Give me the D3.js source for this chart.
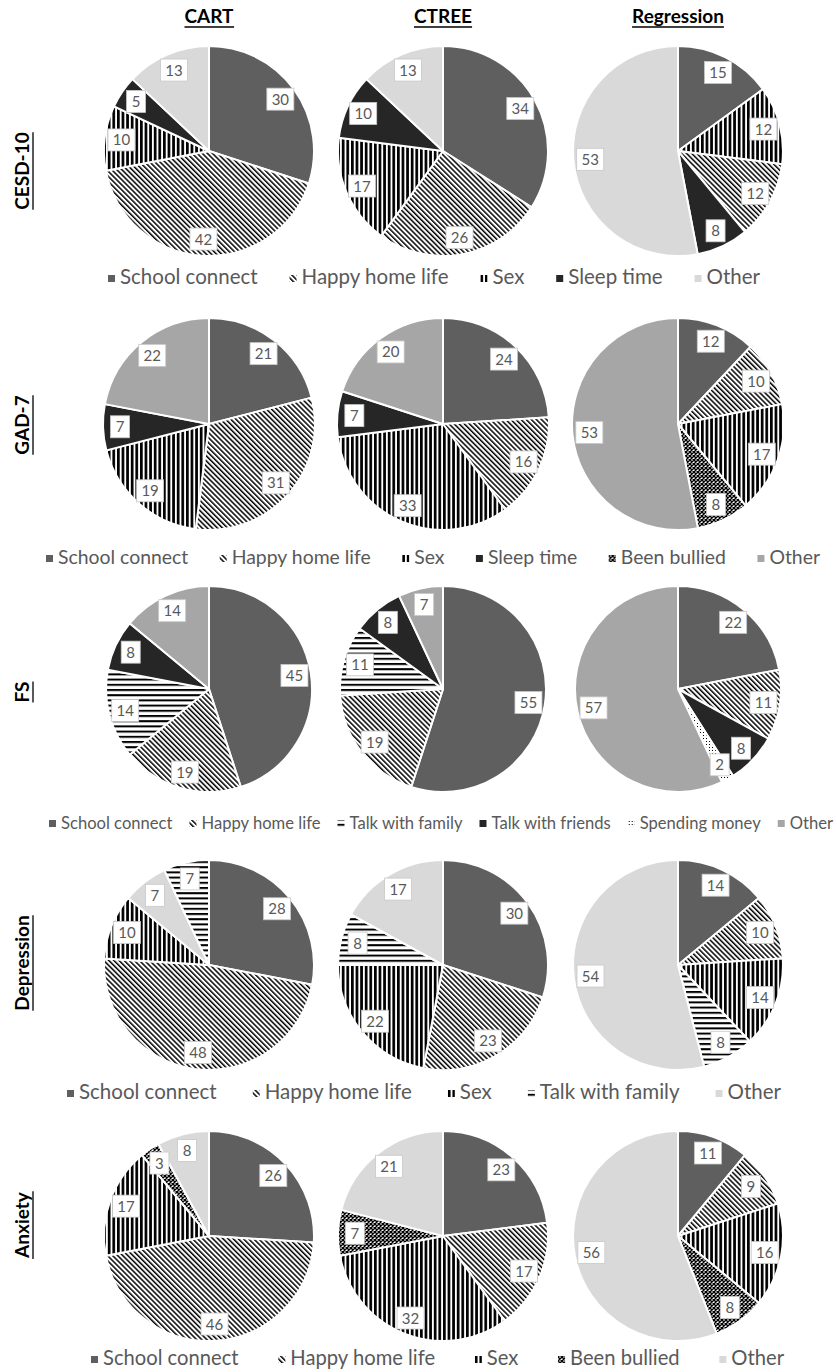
<!DOCTYPE html>
<html>
<head>
<meta charset="utf-8">
<script src="https://cdnjs.cloudflare.com/ajax/libs/d3/7.8.5/d3.min.js"></script>
<style>
  html, body { margin: 0; padding: 0; background: #fff; }
  svg { display: block; }
</style>
</head>
<body>
<svg id="chart" width="837" height="1372"></svg>
<script>
// ---------------- DATA ----------------
const columns = ["CART", "CTREE", "Regression"];
const rowNames = ["CESD-10", "GAD-7", "FS", "Depression", "Anxiety"];

const legendCESD = ["School connect", "Happy home life", "Sex", "Sleep time", "Other"];
const legendGAD = ["School connect", "Happy home life", "Sex", "Sleep time", "Been bullied", "Other"];
const legendFS = ["School connect", "Happy home life", "Talk with family", "Talk with friends", "Spending money", "Other"];
const legendDep = ["School connect", "Happy home life", "Sex", "Talk with family", "Other"];
const legendAnx = ["School connect", "Happy home life", "Sex", "Been bullied", "Other"];

// slices in clockwise order from 12 o'clock: [category, percent]
const cesdCart = [["School connect", 30], ["Happy home life", 42], ["Sex", 10], ["Sleep time", 5], ["Other", 13]];
const cesdCtree = [["School connect", 34], ["Happy home life", 26], ["Sex", 17], ["Sleep time", 10], ["Other", 13]];
const cesdReg = [["School connect", 15], ["Sex", 12], ["Happy home life", 12], ["Sleep time", 8], ["Other", 53]];

const gadCart = [["School connect", 21], ["Happy home life", 31], ["Sex", 19], ["Sleep time", 7], ["Other", 22]];
const gadCtree = [["School connect", 24], ["Happy home life", 16], ["Sex", 33], ["Sleep time", 7], ["Other", 20]];
const gadReg = [["School connect", 12], ["Happy home life", 10], ["Sex", 17], ["Been bullied", 8], ["Other", 53]];

const fsCart = [["School connect", 45], ["Happy home life", 19], ["Talk with family", 14], ["Talk with friends", 8], ["Other", 14]];
const fsCtree = [["School connect", 55], ["Happy home life", 19], ["Talk with family", 11], ["Talk with friends", 8], ["Other", 7]];
const fsReg = [["School connect", 22], ["Happy home life", 11], ["Talk with friends", 8], ["Spending money", 2], ["Other", 57]];

const depCart = [["School connect", 28], ["Happy home life", 48], ["Sex", 10], ["Other", 7], ["Talk with family", 7]];
const depCtree = [["School connect", 30], ["Happy home life", 23], ["Sex", 22], ["Talk with family", 8], ["Other", 17]];
const depReg = [["School connect", 14], ["Happy home life", 10], ["Sex", 14], ["Talk with family", 8], ["Other", 54]];

const anxCart = [["School connect", 26], ["Happy home life", 46], ["Sex", 17], ["Been bullied", 3], ["Other", 8]];
const anxCtree = [["School connect", 23], ["Happy home life", 17], ["Sex", 32], ["Been bullied", 7], ["Other", 21]];
const anxReg = [["School connect", 11], ["Happy home life", 9], ["Sex", 16], ["Been bullied", 8], ["Other", 56]];

// ---------------- LAYOUT ----------------
const rows = [
  { name: rowNames[0], pies: [cesdCart, cesdCtree, cesdReg], legend: legendCESD, cy: 151, r: 105, other: "#d9d9d9", legY: 277, legFont: 20.5, legX: [108, 760], labelY: 171 },
  { name: rowNames[1], pies: [gadCart, gadCtree, gadReg], legend: legendGAD, cy: 424, r: 106, other: "#a6a6a6", legY: 557, legFont: 19.4, legX: [46, 820], labelY: 425 },
  { name: rowNames[2], pies: [fsCart, fsCtree, fsReg], legend: legendFS, cy: 689, r: 103, other: "#a6a6a6", legY: 822, legFont: 16.6, legX: [49, 833], labelY: 692 },
  { name: rowNames[3], pies: [depCart, depCtree, depReg], legend: legendDep, cy: 965, r: 105, other: "#d9d9d9", legY: 1092, legFont: 20.5, legX: [67, 781], labelY: 963 },
  { name: rowNames[4], pies: [anxCart, anxCtree, anxReg], legend: legendAnx, cy: 1236, r: 105, other: "#d9d9d9", legY: 1358, legFont: 20.2, legX: [91, 784], labelY: 1225 }
];
const colX = [209, 443, 678];
const FONT = "Lato, 'Open Sans', sans-serif";
const TEXT_COL = "#595959";

const svg = d3.select("#chart");
const defs = svg.append("defs");

// ---------- patterns ----------
function pat(id, w, h, transform, build) {
  const p = defs.append("pattern").attr("id", id)
    .attr("patternUnits", "userSpaceOnUse").attr("width", w).attr("height", h);
  if (transform) p.attr("patternTransform", transform);
  p.append("rect").attr("width", w).attr("height", h).attr("fill", "#fff");
  build(p);
}
pat("pHappy", 3.6, 3.6, "rotate(-45)", p => p.append("rect").attr("x", 0).attr("y", 0).attr("width", 1.5).attr("height", 3.6).attr("fill", "#000"));
pat("pSex", 4.6, 4.6, null, p => p.append("rect").attr("x", 0).attr("y", 0).attr("width", 2.7).attr("height", 4.6).attr("fill", "#000"));
pat("pFamily", 5.2, 5.2, null, p => p.append("rect").attr("x", 0).attr("y", 0).attr("width", 5.2).attr("height", 2).attr("fill", "#000"));
pat("pBullied", 4, 4, null, p => {
  p.append("path").attr("d", "M0,0L4,4M4,0L0,4").attr("stroke", "#000").attr("stroke-width", 1.4);
});
pat("pSpend", 3, 3, null, p => p.append("rect").attr("x", 1).attr("y", 1).attr("width", 1).attr("height", 1).attr("fill", "#000"));

function fillFor(cat, row) {
  switch (cat) {
    case "School connect": return "#5f5f5f";
    case "Happy home life": return "url(#pHappy)";
    case "Sex": return "url(#pSex)";
    case "Sleep time":
    case "Talk with friends": return "#262626";
    case "Talk with family": return "url(#pFamily)";
    case "Been bullied": return "url(#pBullied)";
    case "Spending money": return "url(#pSpend)";
    default: return row.other;
  }
}

// ---------- column titles ----------
columns.forEach((c, i) => {
  const t = svg.append("text").attr("x", colX[i]).attr("y", 23)
    .attr("text-anchor", "middle").attr("font-family", FONT)
    .attr("font-weight", "bold").attr("font-size", 19).attr("fill", "#000").text(c);
  const bb = t.node().getBBox();
  svg.append("line").attr("x1", bb.x).attr("x2", bb.x + bb.width)
    .attr("y1", 27).attr("y2", 27).attr("stroke", "#000").attr("stroke-width", 1.3);
});

const pie = d3.pie().sort(null).value(d => d[1]);

rows.forEach(row => {
  // row label
  const g = svg.append("g").attr("transform", `translate(29,${row.labelY}) rotate(-90)`);
  const t = g.append("text").attr("x", 0).attr("y", 0).attr("text-anchor", "middle")
    .attr("font-family", FONT).attr("font-weight", "bold").attr("font-size", 19)
    .attr("fill", "#000").text(row.name);
  const bb = t.node().getBBox();
  g.append("line").attr("x1", bb.x).attr("x2", bb.x + bb.width).attr("y1", 4).attr("y2", 4)
    .attr("stroke", "#000").attr("stroke-width", 1.3);

  // pies
  row.pies.forEach((data, ci) => {
    const arc = d3.arc().innerRadius(0).outerRadius(row.r);
    const pg = svg.append("g").attr("transform", `translate(${colX[ci]},${row.cy})`);
    const arcs = pie(data);
    pg.selectAll("path").data(arcs).join("path")
      .attr("d", arc)
      .attr("fill", d => fillFor(d.data[0], row))
      .attr("stroke", "#fff").attr("stroke-width", 2).attr("stroke-linejoin", "round");
    const lr = row.r * 0.84;
    const lab = pg.selectAll("g.lab").data(arcs).join("g").attr("class", "lab")
      .attr("transform", d => {
        const a = (d.startAngle + d.endAngle) / 2;
        return `translate(${Math.sin(a) * lr},${-Math.cos(a) * lr})`;
      });
    lab.each(function (d) {
      const s = d3.select(this);
      const txt = String(d.data[1]);
      const w = txt.length > 1 ? 27 : 19;
      s.append("rect").attr("x", -w / 2).attr("y", -11).attr("width", w).attr("height", 22)
        .attr("fill", "#fff").attr("stroke", "#c8c8c8").attr("stroke-width", 0.8);
      s.append("text").attr("text-anchor", "middle").attr("y", 5.5)
        .attr("font-family", FONT).attr("font-size", 15).attr("fill", TEXT_COL).text(txt);
    });
  });

  // legend: items spread between legX[0] and legX[1]
  const lg = svg.append("g").attr("transform", `translate(0,${row.legY + 7})`);
  const sym = 7;
  const groups = [];
  let sumW = 0;
  row.legend.forEach(cat => {
    const ig = lg.append("g");
    ig.append("rect").attr("x", 0).attr("y", -sym - 2).attr("width", sym).attr("height", sym)
      .attr("fill", fillFor(cat, row));
    const tt = ig.append("text").attr("x", sym + 5).attr("y", 0)
      .attr("font-family", FONT).attr("font-size", row.legFont).attr("fill", TEXT_COL).text(cat);
    const w = sym + 5 + tt.node().getComputedTextLength();
    groups.push({ ig, w });
    sumW += w;
  });
  const gap = (row.legX[1] - row.legX[0] - sumW) / (groups.length - 1);
  let x = row.legX[0];
  groups.forEach(o => { o.ig.attr("transform", `translate(${x},0)`); x += o.w + gap; });
});
</script>
</body>
</html>
